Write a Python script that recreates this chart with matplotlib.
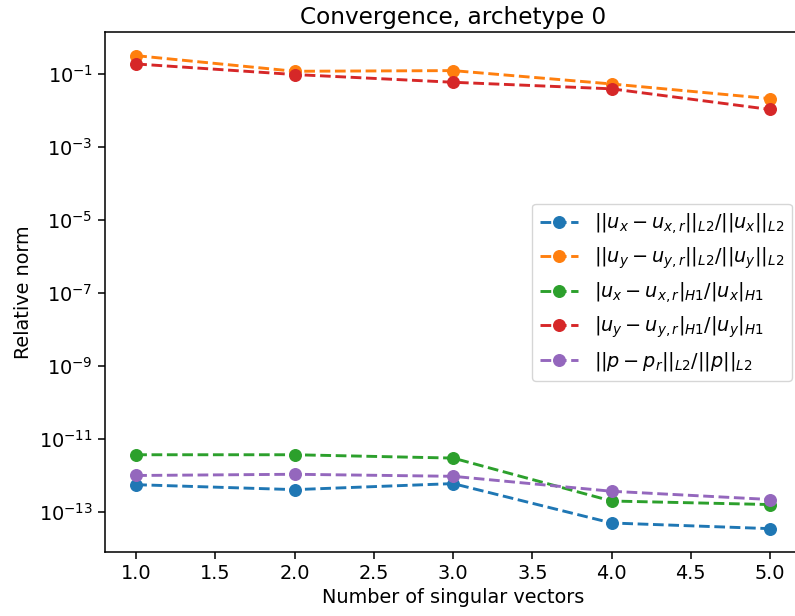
import matplotlib
matplotlib.use("Agg")
import matplotlib.pyplot as plt

n_vectors = [1.0, 2.0, 3.0, 4.0, 5.0]
ux_L2 = [5.6e-13, 4.1e-13, 6.0e-13, 5.0e-14, 3.5e-14]
uy_L2 = [0.316, 0.118, 0.123, 0.053, 0.021]
ux_H1 = [3.7e-12, 3.7e-12, 3.0e-12, 2.0e-13, 1.6e-13]
uy_H1 = [0.187, 0.096, 0.059, 0.039, 0.0106]
p_L2 = [1.0e-12, 1.08e-12, 9.5e-13, 3.7e-13, 2.2e-13]

labels = [
    r'$||u_x - u_{x,r}||_{L2}/||u_x||_{L2}$',
    r'$||u_y - u_{y,r}||_{L2}/||u_y||_{L2}$',
    r'$|u_x - u_{x,r}|_{H1}/|u_x|_{H1}$',
    r'$|u_y - u_{y,r}|_{H1}/|u_y|_{H1}$',
    r'$||p - p_r||_{L2}/||p||_{L2}$',
]
series = [ux_L2, uy_L2, ux_H1, uy_H1, p_L2]

s = 1.39
plt.rcParams.update({
    'font.size': 10 * s,
    'axes.linewidth': 0.8 * s,
    'xtick.major.size': 3.5 * s,
    'ytick.major.size': 3.5 * s,
    'xtick.major.width': 0.8 * s,
    'ytick.major.width': 0.8 * s,
    'ytick.minor.size': 2 * s,
    'ytick.minor.width': 0.6 * s,
})

fig = plt.figure(figsize=(7.95, 6.16), dpi=100)
ax = fig.add_axes([104.5 / 795, 1 - 552.3 / 616, (801.7 - 104.5) / 795, (552.3 - 32) / 616])
for ys, lab in zip(series, labels):
    ax.plot(n_vectors, ys, '--o', label=lab, linewidth=1.5 * s, markersize=6 * s)
ax.set_yscale('log')
ax.set_title('Convergence, archetype 0', fontsize=12 * s)
ax.set_xlabel('Number of singular vectors')
ax.set_ylabel('Relative norm')
ax.legend(loc='center right')
fig.savefig('out.png', dpi=100)
